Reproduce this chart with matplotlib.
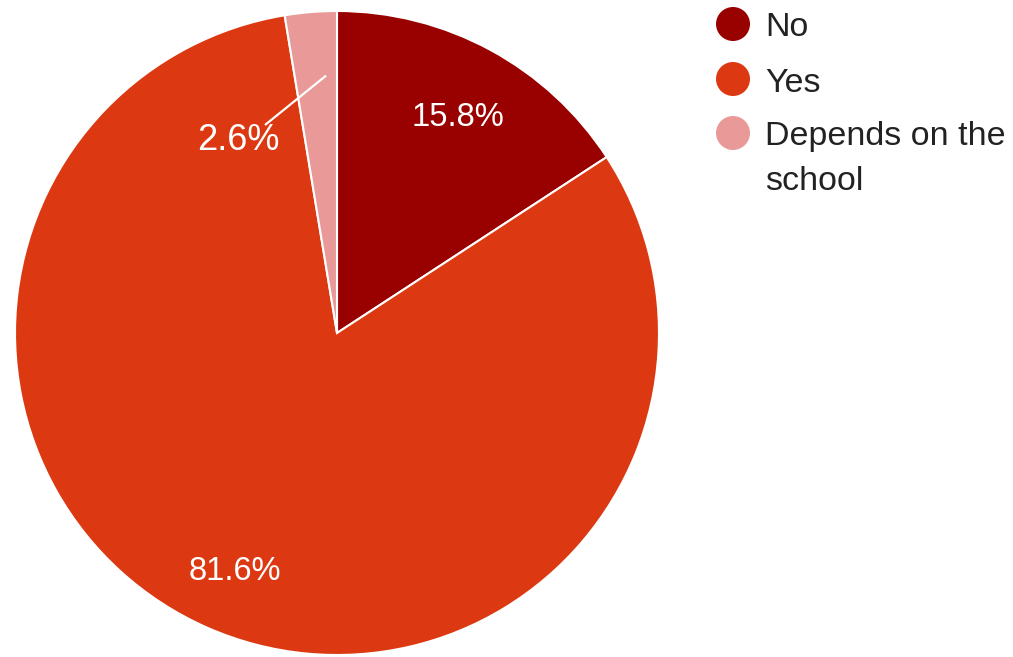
import numpy as np
import matplotlib
matplotlib.use("Agg")
import matplotlib.pyplot as plt

labels = ["No", "Yes", "Depends on the\nschool"]
values = [15.8, 81.6, 2.6]
colors = ["#990000", "#dc3912", "#ea9999"]

W, H = 1013, 657
plt.rcParams['font.family'] = ['Liberation Sans', 'DejaVu Sans']
fig = plt.figure(figsize=(W / 100, H / 100), dpi=100)
ax = fig.add_axes([0, 0, 1, 1])

cx, cy, R = 337, H - 333, 322
wedges, texts, autotexts = ax.pie(
    values, colors=colors, startangle=90, counterclock=False,
    center=(cx, cy), radius=R, frame=True,
    autopct=lambda p: f"{p:.1f}%", pctdistance=0.785,
    wedgeprops=dict(edgecolor="white", linewidth=1.5),
    textprops=dict(color="white", fontsize=23.5),
)
for t in texts:
    t.set_visible(False)
for t in autotexts[:2]:
    x, y = t.get_position()
    t.set_position((x, y - 7))

# small slice: label outside with leader line
small = wedges[2]
t1, t2 = small.theta1, small.theta2
a_anchor = np.deg2rad(t1 + 0.26 * (t2 - t1))
ax0 = cx + 0.8 * R * np.cos(a_anchor)
ay0 = cy + 0.8 * R * np.sin(a_anchor)
autotexts[2].set_position((238, H - 140))
autotexts[2].set_fontsize(26)
autotexts[2].set_va("center")
autotexts[2].set_ha("center")
ax.plot([ax0, 265], [ay0, H - 125], color="white", lw=1.6, solid_capstyle="butt")

# legend
leg_y = [24, 79, 133]
for lab, col, ly in zip(labels, colors, leg_y):
    ax.scatter([733], [H - ly], s=(2 * 17 * 0.72) ** 2, color=col, edgecolors="none")
    for i, line in enumerate(lab.split("\n")):
        ax.text(765, H - ly - 4 - 45 * i, line, fontsize=24.5, color="#222222",
                va="center", ha="left")

ax.set_xlim(0, W)
ax.set_ylim(0, H)
ax.set_aspect("auto")
ax.axis("off")
fig.savefig("out.png", dpi=100)
